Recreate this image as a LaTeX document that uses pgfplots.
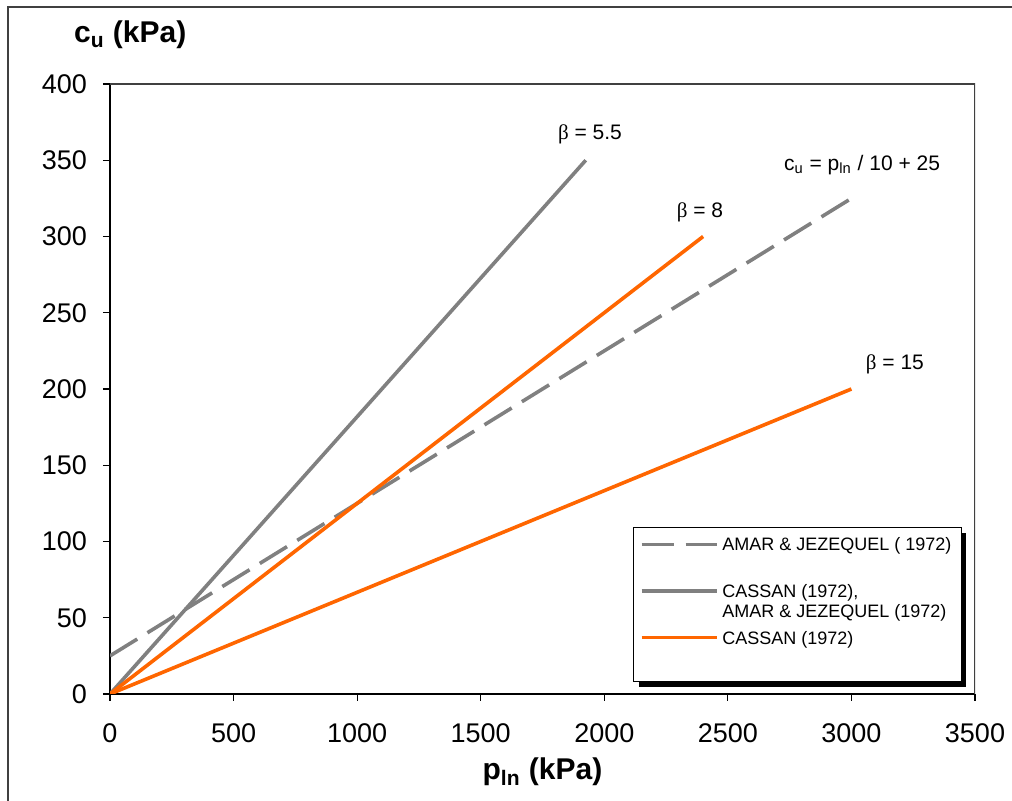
\documentclass[border=0pt]{standalone}
\usepackage{fontspec}
\setmainfont{Liberation Sans}
\newfontfamily\symfont{Liberation Serif}
\usepackage{pgfplots}
\pgfplotsset{compat=1.18}
\usetikzlibrary{shadows}
\definecolor{lgray}{HTML}{808080}
\definecolor{orng}{HTML}{FF6600}
\definecolor{frame}{HTML}{404040}
\newcommand{\bet}{{\symfont β}}
\makeatletter
\tikzset{no preactions/.code={\let\tikz@preactions\pgfutil@empty}}
\makeatother

\begin{document}
\begin{tikzpicture}
\useasboundingbox (-55pt,-53.5pt) rectangle (451pt,347pt);
% outer chart frame (cut by the picture edge on the right and bottom)
\draw[frame, line width=1pt] (-51pt,-60pt) -- (-51pt,343.5pt) -- (460pt,343.5pt);
\begin{axis}[at={(0pt,0pt)}, anchor=south west,
  scale only axis, width=432.5pt, height=305pt,
  xmin=0, xmax=3500, ymin=0, ymax=400,
  xtick={0,500,...,3500}, ytick={0,50,...,400},
  axis x line*=bottom, axis y line*=left,
  axis line style={-, black, line width=1pt},
  tick align=outside, major tick length=3.5pt,
  tick style={black, line width=0.6pt},
  /pgf/number format/assume math mode=true,
  /pgf/number format/1000 sep={},
  ticklabel style={font=\fontsize{13.5}{15}\selectfont},
  xticklabel style={yshift=-8pt},
  yticklabel style={xshift=-4.5pt},
  xlabel={\textbf{p\textsubscript{ln} (kPa)}},
  xlabel style={font=\fontsize{15}{17}\selectfont, at={(axis description cs:0.5,0)}, anchor=base, yshift=-43pt},
  ylabel={\textbf{c\textsubscript{u} (kPa)}},
  ylabel style={font=\fontsize{15}{17}\selectfont, rotate=-90, at={(axis description cs:0,1)}, anchor=base west, xshift=-21.5pt, yshift=20.5pt},
  legend style={at={(rel axis cs:0.6046,0.2738)}, anchor=north west,
    draw=black, line width=0.75pt, fill=white, inner xsep=3pt, inner ysep=4.75pt,
    font=\fontsize{9}{10}\selectfont, column sep=0pt, row sep=13pt,
    cells={anchor=base west, inner sep=0pt, text height=4.8pt, text depth=2pt},
    drop shadow={shadow xshift=2.5pt, shadow yshift=-2.5pt, fill=black, opacity=1}},
  legend image code/.code={\draw[no preactions, #1] (0pt,3.2pt) -- (37.5pt,3.2pt);},
]
\addplot[lgray, line width=1.8pt, dash pattern=on 16pt off 6pt] coordinates {(0,25) (3000,325)};
\addlegendentry{AMAR \& JEZEQUEL ( 1972)}
\addplot[lgray, line width=1.8pt] coordinates {(0,0) (1925,350)};
\addlegendentry{\vtop{\hbox{CASSAN (1972),}\hbox{AMAR \& JEZEQUEL (1972)}}}
\addplot[orng, line width=1.8pt] coordinates {(0,0) (2400,300)};
\addlegendentry[text depth=12pt]{CASSAN (1972)}
\addplot[orng, line width=1.8pt, forget plot] coordinates {(0,0) (3000,200)};
% top and right frame of the plot area
\draw[frame, line width=0.75pt] (rel axis cs:0,1) -- (rel axis cs:1,1) -- (rel axis cs:1,0);
\begin{scope}[every node/.style={font=\fontsize{10.5}{12}\selectfont}]
\node at (axis cs:1942,367) {\bet{} = 5.5};
\node at (axis cs:2387,316) {\bet{} = 8};
\node at (axis cs:3176,216) {\bet{} = 15};
\node at (axis cs:3043,347) {c\textsubscript{u} = p\textsubscript{ln} / 10 + 25};
\end{scope}
\end{axis}
\end{tikzpicture}
\end{document}
